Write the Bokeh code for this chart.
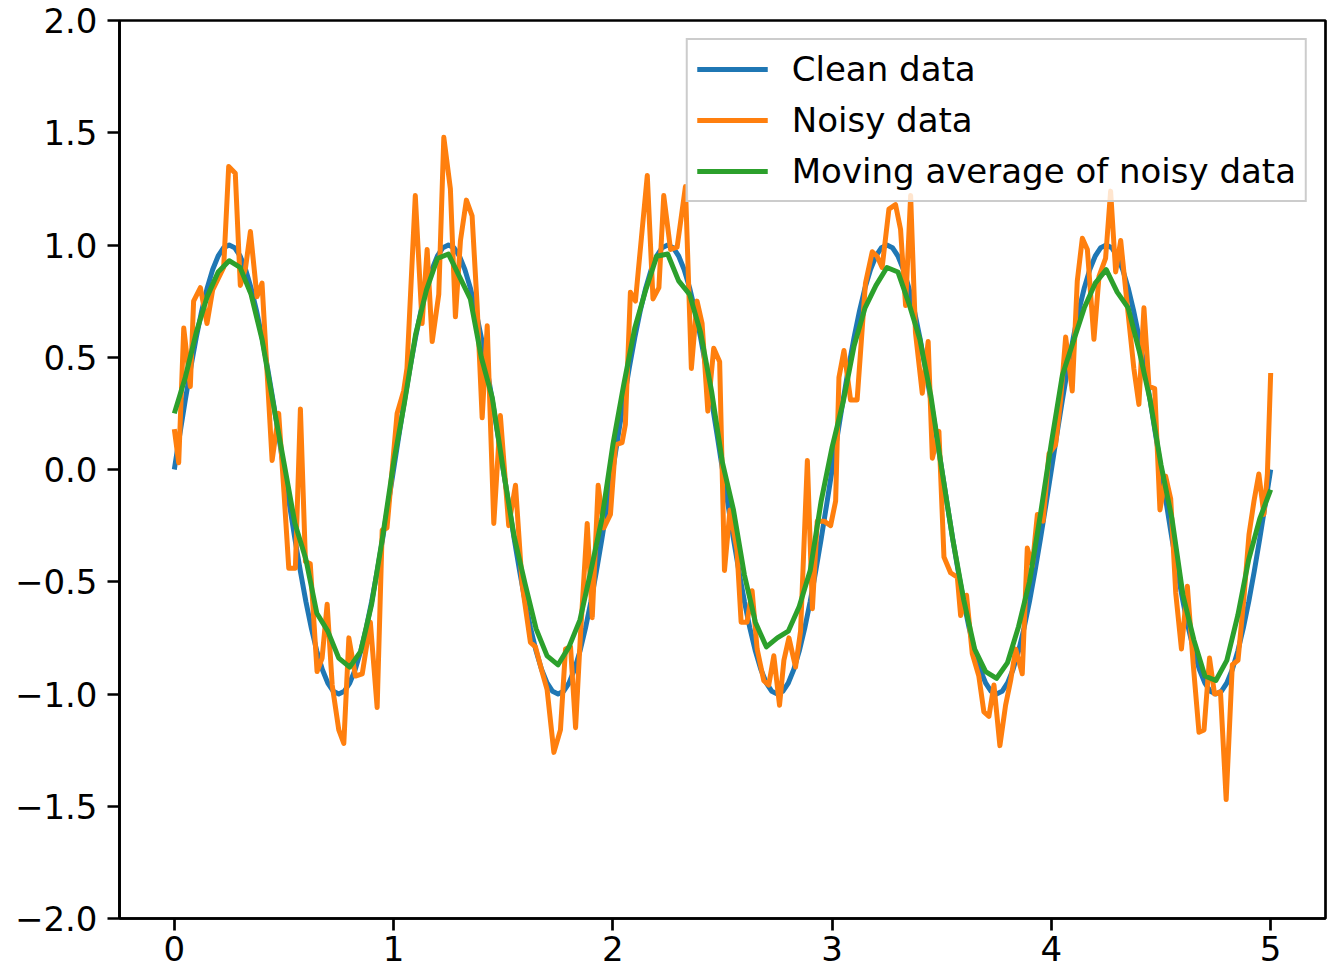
from bokeh.plotting import figure
from bokeh.models import Range1d, FixedTicker, Legend, LegendItem, CustomJSTickFormatter
from bokeh.embed import file_html
from bokeh.resources import INLINE

# ---------------- data ----------------
# Clean data: smooth wave sampled every 0.025 on x in [0, 5]
clean_y = [
    0.0, 0.156, 0.309, 0.454, 0.588, 0.707, 0.809, 0.891, 0.951, 0.988, 1.0, 0.988, 0.951, 0.891, 0.809, 0.707, 0.588, 0.454, 0.309, 0.156,
    0.0, -0.156, -0.309, -0.454, -0.588, -0.707, -0.809, -0.891, -0.951, -0.988, -1.0, -0.988, -0.951, -0.891, -0.809, -0.707, -0.588, -0.454, -0.309, -0.156,
    0.0, 0.156, 0.309, 0.454, 0.588, 0.707, 0.809, 0.891, 0.951, 0.988, 1.0, 0.988, 0.951, 0.891, 0.809, 0.707, 0.588, 0.454, 0.309, 0.156,
    0.0, -0.156, -0.309, -0.454, -0.588, -0.707, -0.809, -0.891, -0.951, -0.988, -1.0, -0.988, -0.951, -0.891, -0.809, -0.707, -0.588, -0.454, -0.309, -0.156,
    0.0, 0.156, 0.309, 0.454, 0.588, 0.707, 0.809, 0.891, 0.951, 0.988, 1.0, 0.988, 0.951, 0.891, 0.809, 0.707, 0.588, 0.454, 0.309, 0.156,
    0.0, -0.156, -0.309, -0.454, -0.588, -0.707, -0.809, -0.891, -0.951, -0.988, -1.0, -0.988, -0.951, -0.891, -0.809, -0.707, -0.588, -0.454, -0.309, -0.156,
    0.0, 0.156, 0.309, 0.454, 0.588, 0.707, 0.809, 0.891, 0.951, 0.988, 1.0, 0.988, 0.951, 0.891, 0.809, 0.707, 0.588, 0.454, 0.309, 0.156,
    0.0, -0.156, -0.309, -0.454, -0.588, -0.707, -0.809, -0.891, -0.951, -0.988, -1.0, -0.988, -0.951, -0.891, -0.809, -0.707, -0.588, -0.454, -0.309, -0.156,
    0.0, 0.156, 0.309, 0.454, 0.588, 0.707, 0.809, 0.891, 0.951, 0.988, 1.0, 0.988, 0.951, 0.891, 0.809, 0.707, 0.588, 0.454, 0.309, 0.156,
    0.0, -0.156, -0.309, -0.454, -0.588, -0.707, -0.809, -0.891, -0.951, -0.988, -1.0, -0.988, -0.951, -0.891, -0.809, -0.707, -0.588, -0.454, -0.309, -0.156,
    0.0,
]
clean_x = [round(i * 5.0 / (len(clean_y) - 1), 4) for i in range(len(clean_y))]

# Noisy data: (x, y) vertices
noisy_points = [
    (0.000, 0.18), (0.020, 0.03), (0.043, 0.63), (0.073, 0.37), (0.088, 0.75), (0.119, 0.81), (0.149, 0.65), (0.175, 0.80),
    (0.225, 0.90), (0.248, 1.35), (0.278, 1.32), (0.301, 0.82), (0.325, 0.90), (0.347, 1.06), (0.377, 0.77), (0.400, 0.83),
    (0.446, 0.04), (0.476, 0.25), (0.500, -0.10), (0.522, -0.44), (0.552, -0.44), (0.575, 0.27), (0.598, -0.41), (0.620, -0.42),
    (0.651, -0.90), (0.674, -0.84), (0.697, -0.60), (0.720, -0.96), (0.750, -1.16), (0.773, -1.22), (0.796, -0.75), (0.826, -0.92),
    (0.857, -0.91), (0.894, -0.68), (0.925, -1.06), (0.948, -0.27), (0.970, -0.26), (1.016, 0.25), (1.046, 0.35), (1.061, 0.45),
    (1.099, 1.22), (1.130, 0.65), (1.153, 0.98), (1.176, 0.57), (1.206, 0.78), (1.229, 1.48), (1.259, 1.25), (1.282, 0.68),
    (1.305, 1.02), (1.332, 1.20), (1.358, 1.13), (1.381, 0.73), (1.404, 0.23), (1.427, 0.64), (1.457, -0.24), (1.487, 0.24),
    (1.525, -0.25), (1.556, -0.07), (1.586, -0.51), (1.624, -0.77), (1.647, -0.79), (1.677, -0.90), (1.700, -0.98), (1.731, -1.26),
    (1.761, -1.16), (1.784, -0.80), (1.807, -0.79), (1.830, -1.15), (1.852, -0.74), (1.883, -0.24), (1.906, -0.66), (1.933, -0.07),
    (1.959, -0.26), (1.989, -0.20), (2.012, 0.11), (2.042, 0.12), (2.057, 0.20), (2.080, 0.79), (2.103, 0.75), (2.157, 1.31),
    (2.183, 0.76), (2.210, 0.81), (2.232, 1.22), (2.263, 0.98), (2.293, 0.99), (2.331, 1.26), (2.358, 0.45), (2.384, 0.75),
    (2.407, 0.65), (2.433, 0.26), (2.460, 0.54), (2.487, 0.48), (2.509, -0.45), (2.534, -0.18), (2.566, -0.36), (2.585, -0.68),
    (2.612, -0.68), (2.635, -0.54), (2.658, -0.80), (2.688, -0.94), (2.711, -0.96), (2.734, -0.83), (2.760, -1.05), (2.780, -0.85),
    (2.803, -0.75), (2.833, -0.88), (2.856, -0.72), (2.887, 0.04), (2.910, -0.62), (2.932, -0.23), (2.963, -0.23), (2.993, -0.25),
    (3.016, -0.14), (3.031, 0.41), (3.054, 0.53), (3.084, 0.31), (3.114, 0.31), (3.152, 0.83), (3.183, 0.97), (3.205, 0.95),
    (3.228, 0.90), (3.259, 1.16), (3.289, 1.18), (3.312, 1.07), (3.335, 0.73), (3.358, 1.22), (3.380, 0.61), (3.411, 0.34),
    (3.438, 0.57), (3.457, 0.05), (3.487, 0.17), (3.510, -0.39), (3.540, -0.46), (3.571, -0.48), (3.586, -0.65), (3.613, -0.56),
    (3.639, -0.82), (3.669, -0.92), (3.692, -1.08), (3.715, -1.10), (3.738, -0.96), (3.765, -1.23), (3.791, -1.05), (3.814, -0.94),
    (3.837, -0.80), (3.867, -0.91), (3.890, -0.35), (3.913, -0.43), (3.936, -0.20), (3.962, -0.23), (3.989, 0.07), (4.019, 0.11),
    (4.042, 0.31), (4.065, 0.59), (4.095, 0.35), (4.118, 0.84), (4.141, 1.03), (4.164, 0.98), (4.194, 0.58), (4.217, 0.86),
    (4.247, 0.94), (4.270, 1.24), (4.293, 0.88), (4.316, 1.02), (4.346, 0.73), (4.376, 0.45), (4.399, 0.29), (4.422, 0.72),
    (4.445, 0.37), (4.471, 0.36), (4.495, -0.18), (4.521, -0.03), (4.544, -0.13), (4.567, -0.55), (4.593, -0.80), (4.620, -0.52),
    (4.647, -0.87), (4.673, -1.17), (4.696, -1.16), (4.721, -0.84), (4.744, -1.00), (4.771, -0.99), (4.797, -1.47), (4.825, -0.87),
    (4.851, -0.85), (4.878, -0.57), (4.901, -0.29), (4.924, -0.14), (4.946, -0.02), (4.969, -0.20), (4.985, -0.02), (5.000, 0.43),
]
noisy_x = [pt[0] for pt in noisy_points]
noisy_y = [pt[1] for pt in noisy_points]

# Moving average of noisy data: read every 0.05 on x in [0, 5]
avg_y = [
    0.25, 0.41, 0.61, 0.77, 0.88, 0.93, 0.90, 0.78, 0.58, 0.30,
    0.03, -0.24, -0.40, -0.64, -0.72, -0.84, -0.88, -0.81, -0.60, -0.30,
    0.03, 0.30, 0.60, 0.80, 0.94, 0.96, 0.86, 0.76, 0.50, 0.32,
    0.00, -0.30, -0.51, -0.71, -0.83, -0.87, -0.79, -0.67, -0.45, -0.22,
    0.11, 0.38, 0.63, 0.80, 0.95, 0.96, 0.84, 0.78, 0.61, 0.35,
    0.03, -0.18, -0.47, -0.68, -0.79, -0.75, -0.72, -0.61, -0.45, -0.14,
    0.10, 0.30, 0.55, 0.72, 0.82, 0.90, 0.88, 0.74, 0.58, 0.33,
    0.00, -0.31, -0.58, -0.80, -0.90, -0.93, -0.86, -0.70, -0.50, -0.20,
    0.12, 0.42, 0.57, 0.72, 0.83, 0.89, 0.79, 0.72, 0.53, 0.31,
    0.02, -0.22, -0.56, -0.76, -0.92, -0.94, -0.85, -0.65, -0.40, -0.22,
    -0.09,
]
avg_x = [round(i * 5.0 / (len(avg_y) - 1), 4) for i in range(len(avg_y))]

series_labels = ["Clean data", "Noisy data", "Moving average of noisy data"]
series_colors = ["#1f77b4", "#ff7f0e", "#2ca02c"]
x_ticks = [0, 1, 2, 3, 4, 5]
y_ticks = [-2, -1.5, -1, -0.5, 0, 0.5, 1, 1.5, 2]

# ---------------- figure ----------------
FONT = "DejaVu Sans"
FS = "34px"
LW = 2.7

p = figure(width=1334, height=975, output_backend="svg", toolbar_location=None,
           x_range=Range1d(-0.25, 5.25), y_range=Range1d(-2, 2),
           min_border_left=119, min_border_right=9, min_border_top=20, min_border_bottom=57,
           background_fill_color="white", border_fill_color="white")

r1 = p.line(clean_x, clean_y, line_color=series_colors[0], line_width=5, line_join="round")
r2 = p.line(noisy_x, noisy_y, line_color=series_colors[1], line_width=5, line_join="round")
r3 = p.line(avg_x, avg_y, line_color=series_colors[2], line_width=5, line_join="round")

p.xgrid.visible = False
p.ygrid.visible = False
p.outline_line_color = "black"
p.outline_line_width = LW
p.outline_line_alpha = 1.0

p.xaxis.ticker = FixedTicker(ticks=x_ticks)
p.yaxis.ticker = FixedTicker(ticks=y_ticks)
p.yaxis.formatter = CustomJSTickFormatter(
    code="return tick < 0 ? '\u2212' + Math.abs(tick).toFixed(1) : tick.toFixed(1);")
p.xaxis.formatter = CustomJSTickFormatter(code="return tick.toFixed(0);")

for ax in (p.xaxis[0], p.yaxis[0]):
    ax.major_tick_out = 12
    ax.major_tick_in = 0
    ax.minor_tick_out = 0
    ax.minor_tick_in = 0
    ax.major_tick_line_width = LW
    ax.major_tick_line_color = "black"
    ax.axis_line_width = LW
    ax.axis_line_color = "black"
    ax.major_label_text_font = FONT
    ax.major_label_text_font_size = FS
    ax.major_label_text_color = "black"
p.yaxis[0].major_label_standoff = 10
p.xaxis[0].major_label_standoff = 5

legend = Legend(
    items=[LegendItem(label=series_labels[i], renderers=[r]) for i, r in enumerate([r1, r2, r3])],
    location="top_right",
    label_text_font=FONT, label_text_font_size=FS, label_text_color="black",
    glyph_width=71, glyph_height=40, label_height=40, spacing=11, padding=9,
    label_standoff=24, margin=18,
    border_line_color="#cccccc", border_line_width=2, border_line_alpha=1.0,
    background_fill_color="white", background_fill_alpha=0.8,
)
p.add_layout(legend)

open("out.html", "w").write(file_html(p, INLINE))
